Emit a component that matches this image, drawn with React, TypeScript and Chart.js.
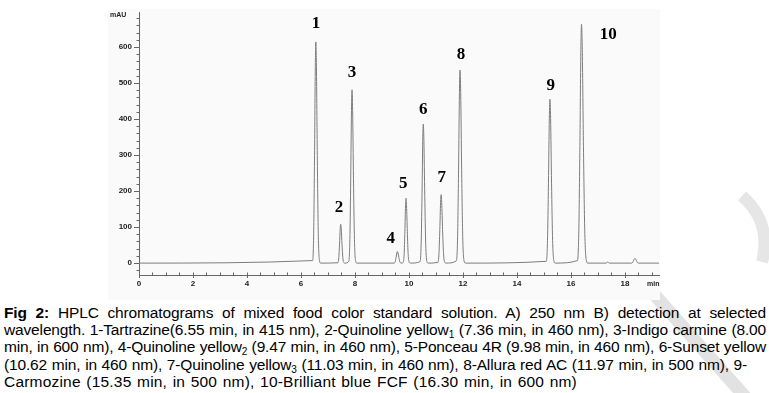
import React, { useEffect, useRef } from "react";
import { Chart, registerables } from "chart.js";

Chart.register(...registerables);

// Retention time (min) and absorbance (mAU) of the chromatogram trace
const traceTime = [
  0, 6.43, 6.47, 6.502, 6.53, 6.55, 6.572, 6.604, 6.64, 6.685, 6.73,
  7.365, 7.4, 7.428, 7.452, 7.47, 7.49, 7.518, 7.55, 7.59, 7.63,
  7.77, 7.81, 7.842, 7.87, 7.89, 7.912, 7.944, 7.98, 8.025, 8.07,
  9.45, 9.49, 9.522, 9.55, 9.57, 9.592, 9.624, 9.66, 9.705,
  9.785, 9.82, 9.848, 9.872, 9.89, 9.91, 9.938, 9.97, 10.01, 10.05,
  10.41, 10.45, 10.482, 10.51, 10.53, 10.552, 10.584, 10.62, 10.665, 10.71,
  11.07, 11.11, 11.142, 11.17, 11.19, 11.212, 11.244, 11.28, 11.325, 11.37,
  11.755, 11.8, 11.836, 11.868, 11.89, 11.915, 11.95, 11.99, 12.04, 12.09,
  15.085, 15.13, 15.166, 15.198, 15.22, 15.245, 15.28, 15.32, 15.37, 15.42,
  16.24, 16.29, 16.33, 16.365, 16.39, 16.42, 16.462, 16.51, 16.57, 16.63,
  17.3, 17.36, 17.42,
  18.25, 18.3, 18.335, 18.37, 18.405, 18.44, 18.5,
  19.26,
];
const traceAbs = [
  0, 7, 83, 299, 542, 614, 542, 299, 83, 7, 0,
  1, 15, 53, 95, 108, 95, 53, 15, 1, 0,
  5, 65, 234, 424, 481, 424, 234, 65, 5, 0,
  0, 4, 16, 28, 32, 28, 16, 4, 0,
  2, 24, 88, 159, 180, 159, 88, 24, 2, 0,
  4, 52, 188, 341, 386, 341, 188, 52, 4, 0,
  2, 26, 93, 168, 190, 168, 93, 26, 2, 0,
  6, 73, 261, 473, 536, 473, 261, 73, 6, 0,
  5, 62, 222, 402, 455, 402, 222, 62, 5, 0,
  7, 90, 323, 585, 663, 585, 323, 90, 7, 0,
  0, 3, 0,
  0, 4, 10, 13, 10, 4, 0,
  0,
];

// Peak number labels (anchored in data coordinates)
const peakLabels = ["1", "2", "3", "4", "5", "6", "7", "8", "9", "10"];
const labelTime = [6.56, 7.41, 7.89, 9.32, 9.79, 10.53, 11.21, 11.93, 15.25, 17.38];
const labelAbs = [665, 153, 528, 67, 220, 426, 237, 579, 494, 633];

// Axis ticks
const xTickValues = [0, 2, 4, 6, 8, 10, 12, 14, 16, 18];
const yTickValues = [0, 100, 200, 300, 400, 500, 600];
const xMin = 0;
const xMax = 19.26;
const yMin = -33;
const yMax = 697;

const decorPlugin = {
  id: "decor",
  beforeDraw(chart: any) {
    const ctx = chart.ctx;
    ctx.save();
    ctx.fillStyle = "#fafafa";
    ctx.fillRect(108, 9, 552, 291);
    ctx.restore();
  },
  afterDraw(chart: any) {
    const { ctx, chartArea } = chart;
    const x = chart.scales.x;
    const y = chart.scales.y;
    ctx.save();
    ctx.strokeStyle = "#666";
    ctx.lineWidth = 1;
    ctx.beginPath();
    for (let v = -20; v <= 680; v += 20) {
      const py = Math.round(y.getPixelForValue(v)) + 0.5;
      const len = v % 100 === 0 ? 5 : 2.5;
      ctx.moveTo(chartArea.left - len, py);
      ctx.lineTo(chartArea.left, py);
    }
    for (let k = 0; k <= 38; k++) {
      const t = k * 0.5;
      const px = Math.round(x.getPixelForValue(t)) + 0.5;
      const major = k % 4 === 0;
      ctx.moveTo(px, chartArea.bottom - 2.5);
      ctx.lineTo(px, chartArea.bottom + (major ? 3 : 0));
    }
    ctx.stroke();

    ctx.fillStyle = "#222";
    ctx.font = "bold 7px 'Liberation Sans', Arial";
    ctx.textBaseline = "middle";
    ctx.textAlign = "left";
    ctx.fillText("mAU", chartArea.left - 29, chartArea.top + 3);
    ctx.fillText("min", chartArea.right - 12, chartArea.bottom + 9);

    ctx.fillStyle = "#000";
    ctx.font = "bold 17px 'Liberation Serif', 'Times New Roman', serif";
    ctx.textAlign = "center";
    for (let i = 0; i < peakLabels.length; i++) {
      ctx.fillText(
        peakLabels[i],
        x.getPixelForValue(labelTime[i]),
        y.getPixelForValue(labelAbs[i])
      );
    }
    ctx.restore();
  },
};

export default function App() {
  const canvasRef = useRef<HTMLCanvasElement | null>(null);

  useEffect(() => {
    const canvas = canvasRef.current;
    if (!canvas) return;
    const points = traceTime.map((t, i) => ({ x: t, y: traceAbs[i] }));
    const chart = new Chart(canvas, {
      type: "line",
      data: {
        datasets: [
          {
            data: points,
            borderColor: "#7d7d7d",
            borderWidth: 1,
            pointRadius: 0,
            fill: false,
            cubicInterpolationMode: "monotone",
          },
        ],
      },
      options: {
        animation: false,
        responsive: false,
        devicePixelRatio: 1,
        parsing: false,
        layout: { padding: { left: 0, right: 110, top: 12, bottom: 0 } },
        plugins: { legend: { display: false }, tooltip: { enabled: false } },
        scales: {
          x: {
            type: "linear",
            min: xMin,
            max: xMax,
            afterBuildTicks: (s: any) => {
              s.ticks = xTickValues.map((v) => ({ value: v }));
            },
            afterFit: (s: any) => {
              s.height = 25;
            },
            grid: { display: true, drawOnChartArea: false, drawTicks: false },
            border: { display: true, color: "#666", width: 1 },
            ticks: {
              padding: 4,
              maxRotation: 0,
              autoSkip: false,
              color: "#222",
              font: { family: "'Liberation Sans', Arial", size: 8, weight: "bold" },
            },
          },
          y: {
            type: "linear",
            min: yMin,
            max: yMax,
            afterBuildTicks: (s: any) => {
              s.ticks = yTickValues.map((v) => ({ value: v }));
            },
            afterFit: (s: any) => {
              s.width = 139;
            },
            grid: { display: true, drawOnChartArea: false, drawTicks: false },
            border: { display: true, color: "#666", width: 1 },
            ticks: {
              padding: 7,
              autoSkip: false,
              color: "#222",
              font: { family: "'Liberation Sans', Arial", size: 8, weight: "bold" },
            },
          },
        },
      },
      plugins: [decorPlugin],
    });
    return () => chart.destroy();
  }, []);

  const sub = {
    fontSize: "0.65em",
    lineHeight: 0,
    verticalAlign: "-0.3em",
  } as React.CSSProperties;
  const justified = {
    textAlign: "justify",
    textAlignLast: "justify",
    whiteSpace: "nowrap",
    letterSpacing: "-0.15px",
  } as React.CSSProperties;

  return (
    <div
      style={{
        position: "absolute",
        left: 0,
        top: 0,
        width: 769,
        height: 393,
        background: "#fff",
        overflow: "hidden",
      }}
    >
      <svg
        width={769}
        height={393}
        style={{ position: "absolute", left: 0, top: 0 }}
      >
        <path d="M 652 292 L 748 400" stroke="#e2e2e2" strokeWidth={13} fill="none" />
        <path d="M 742 196 Q 772 222 762 262" stroke="#e6e6e6" strokeWidth={12} fill="none" />
      </svg>
      <canvas
        ref={canvasRef}
        width={769}
        height={300}
        style={{ position: "absolute", left: 0, top: 0, width: 769, height: 300 }}
      />
      <div
        style={{
          position: "absolute",
          left: 4,
          top: 304,
          width: 762,
          fontFamily: "'Liberation Sans', Arial, sans-serif",
          fontSize: 15.5,
          lineHeight: "17.2px",
          color: "#000",
        }}
      >
        <div style={{ ...justified }}>
          <b>Fig 2:</b> HPLC chromatograms of mixed food color standard solution. A) 250 nm B) detection at selected
        </div>
        <div style={{ ...justified }}>
          wavelength. 1-Tartrazine(6.55 min, in 415 nm), 2-Quinoline yellow<sub style={sub}>1</sub> (7.36 min, in 460 nm), 3-Indigo carmine (8.00
        </div>
        <div style={{ ...justified }}>
          min, in 600 nm), 4-Quinoline yellow<sub style={sub}>2</sub> (9.47 min, in 460 nm), 5-Ponceau 4R (9.98 min, in 460 nm), 6-Sunset yellow
        </div>
        <div style={{ ...justified, width: 743 }}>
          (10.62 min, in 460 nm), 7-Quinoline yellow<sub style={sub}>3</sub> (11.03 min, in 460 nm), 8-Allura red AC (11.97 min, in 500 nm), 9-
        </div>
        <div style={{ ...justified, width: 573, letterSpacing: "0.2px" }}>
          Carmozine (15.35 min, in 500 nm), 10-Brilliant blue FCF (16.30 min, in 600 nm)
        </div>
      </div>
    </div>
  );
}
